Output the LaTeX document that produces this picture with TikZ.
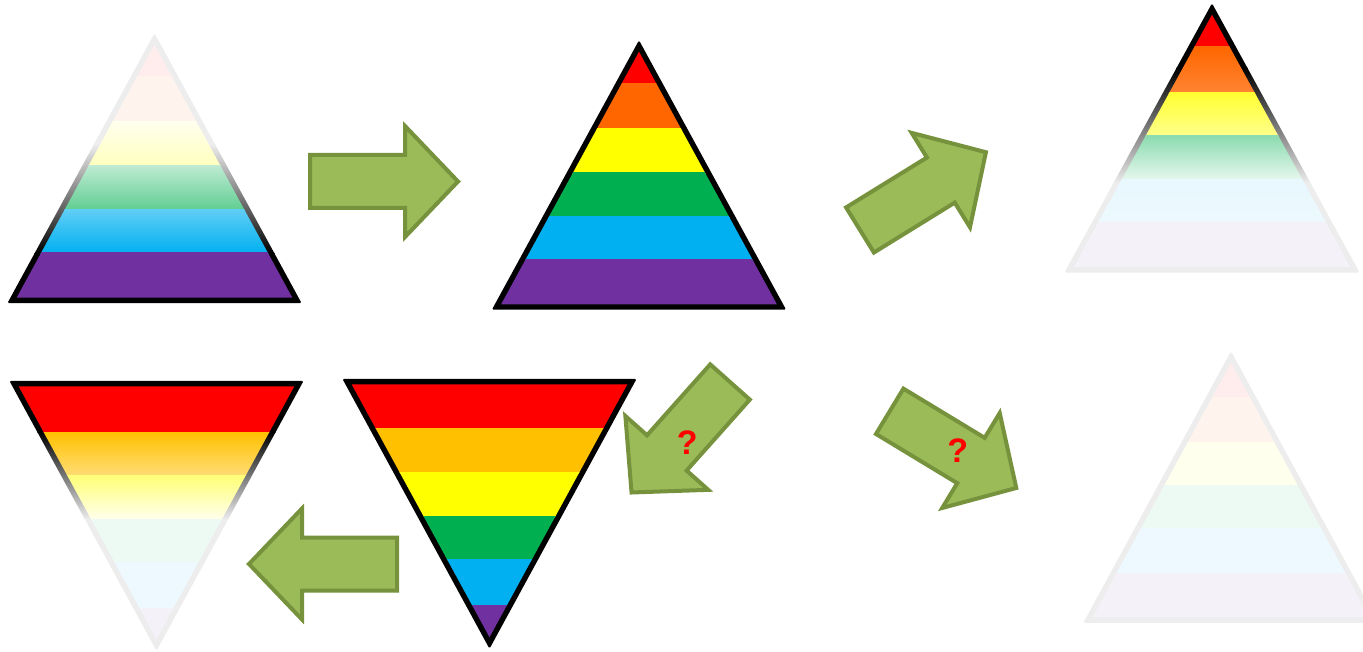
\documentclass[tikz,border=0pt]{standalone}
\usepackage{fontspec}
\setmainfont{Liberation Sans}
\usetikzlibrary{calc}
\definecolor{cRed}{HTML}{FF0000}
\definecolor{cOrange}{HTML}{FF6600}
\definecolor{cAmber}{HTML}{FFC000}
\definecolor{cYellow}{HTML}{FFFF00}
\definecolor{cGreen}{HTML}{00B050}
\definecolor{cBlue}{HTML}{00B0F0}
\definecolor{cPurple}{HTML}{7030A0}
\definecolor{arrFill}{HTML}{9BBB59}
\definecolor{arrLine}{HTML}{76923C}
\tikzset{
  blockarrow/.style={fill=arrFill, draw=arrLine, line width=4, line join=miter},
  qmark/.style={text=cRed, font=\fontsize{34}{40}\selectfont\bfseries, inner sep=0},
}
\def\rbparse#1,#2,#3,#4,#5\relax{\def\bA{#1}\def\bB{#2}\def\bC{#3}\def\bD{#4}\def\bE{#5}}
\newcommand\fadeval[1]{(\fas)+((\fae)-(\fas))*max(0,min(1,((#1)-(\fys))/((\fye)-(\fys))))}
\newcommand\fb[3]{%
  \pgfmathtruncatemacro\pcA{round(100*(1-(\fadeval{#2})))}%
  \pgfmathtruncatemacro\pcB{round(100*(1-(\fadeval{#3})))}%
  \shade[top color=#1!\pcA!white, bottom color=#1!\pcB!white] (\rtxl,#2) rectangle (\rtxr,#3+0.6);
}
% #1 cx, #2 apex y, #3 base y, #4 half width, #5 second band colour, #6 band limits
\newcommand\rtri[6]{%
  \begin{scope}
  \pgfmathsetmacro\tH{abs(#3-#2)}%
  \pgfmathsetmacro\tL{\tH*sqrt(1+(#4/\tH)^2)}%
  \pgfmathsetmacro\tR{\tH*(#4/(#4+\tL))}%
  \pgfmathsetmacro\tYI{#3+(#2-#3)/\tH*\tR}%
  \pgfmathsetmacro\tKo{(\tR+2.75)/\tR}%
  \pgfmathsetmacro\tKi{(\tR-2.75)/\tR}%
  \pgfmathsetmacro\rtxl{#1-#4-12}%
  \pgfmathsetmacro\rtxr{#1+#4+12}%
  \pgfmathsetmacro\rtytop{min(#2,#3)-12}%
  \pgfmathsetmacro\rtybot{max(#2,#3)+12}%
  \rbparse#6\relax
  \coordinate (I) at (#1,\tYI);
  \coordinate (A) at (#1,#2);
  \coordinate (B) at (#1-#4,#3);
  \coordinate (C) at (#1+#4,#3);
  \begin{scope}
    \clip[rounded corners=1.5] ($(I)!\tKo!(A)$) -- ($(I)!\tKo!(B)$) -- ($(I)!\tKo!(C)$) -- cycle;
    \fb{black}{\rtytop}{\fys}
    \fb{black}{\fys}{\fye}
    \fb{black}{\fye}{\rtybot}
  \end{scope}
  \begin{scope}
    \clip ($(I)!\tKi!(A)$) -- ($(I)!\tKi!(B)$) -- ($(I)!\tKi!(C)$) -- cycle;
    \fb{cRed}{\rtytop}{\bA}
    \fb{#5}{\bA}{\bB}
    \fb{cYellow}{\bB}{\bC}
    \fb{cGreen}{\bC}{\bD}
    \fb{cBlue}{\bD}{\bE}
    \fb{cPurple}{\bE}{\rtybot}
  \end{scope}
  \end{scope}
}
\newcommand\barrow[3]{%
  \draw[blockarrow, shift={(#1,#2)}, rotate=#3]
    (0,-26.5) -- (95,-26.5) -- (95,-55.5) -- (148,0) -- (95,55.5) -- (95,26.5) -- (0,26.5) -- cycle;
}
\begin{document}
\begin{tikzpicture}[x=1pt,y=-1pt]
\useasboundingbox (0,0) rectangle (1363,652);
\fill[white] (0,0) rectangle (1363,652);
% top-left: fading upwards
\def\fys{144}\def\fas{0.93}\def\fye{253}\def\fae{0}
\rtri{154.5}{39}{300.5}{142.5}{cOrange}{77,122,166,210,253}
% top middle: full colour
\def\fys{-100}\def\fas{0}\def\fye{-50}\def\fae{0}
\rtri{639}{46}{307}{142.5}{cOrange}{84,129,172.5,216.5,260}
% top right: fading downwards
\def\fys{68}\def\fas{0}\def\fye{183}\def\fae{0.93}
\rtri{1212}{9}{270}{143}{cOrange}{47,93,136,180,223}
% bottom right: all faded
\def\fys{-100}\def\fas{0.93}\def\fye{-50}\def\fae{0.93}
\rtri{1231}{357}{620}{143}{cOrange}{397,442,485,528,573}
% bottom left inverted: fading downwards
\def\fys{432}\def\fas{0}\def\fye{519}\def\fae{0.93}
\rtri{156.5}{645}{383.5}{142.5}{cAmber}{432,475,519,562,608}
% bottom middle inverted: full colour
\def\fys{-100}\def\fas{0}\def\fye{-50}\def\fae{0}
\rtri{489.5}{643}{381.5}{142.5}{cAmber}{428.5,472.5,516.5,559.5,605}
% arrows
\barrow{310}{181.5}{0}
\barrow{860}{230}{31.7}
\barrow{730}{382}{228.3}
\barrow{889.7}{411.3}{-31.2}
\barrow{397}{564}{180}
\node[qmark] (q1) at (687.3,442.3) {?};
\node[qmark] (q2) at (957.7,450.7) {?};
\end{tikzpicture}
\end{document}
